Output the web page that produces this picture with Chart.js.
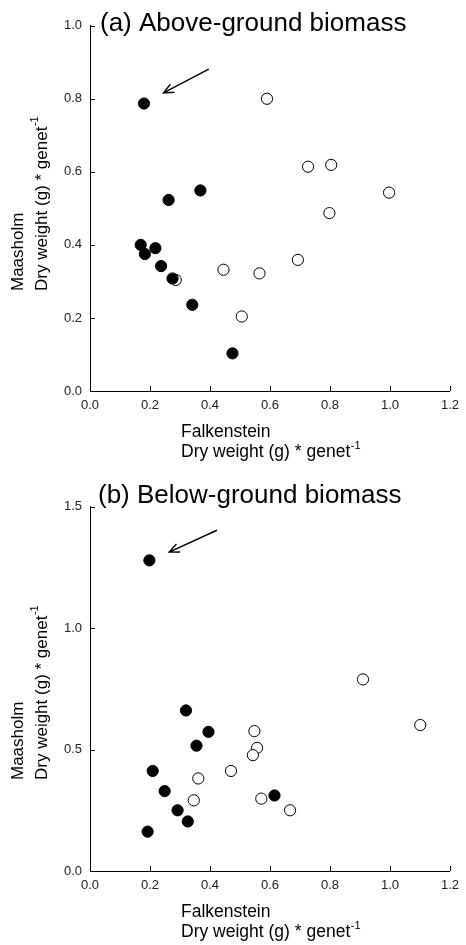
<!DOCTYPE html>
<html>
<head>
<meta charset="utf-8">
<script src="https://cdn.jsdelivr.net/npm/chart.js@4.4.1/dist/chart.umd.min.js"></script>
<style>
  html, body { margin: 0; padding: 0; background: #fff; }
  #wrap { position: relative; width: 466px; height: 945px; }
  canvas { position: absolute; left: 0; }
  #chartA { top: 0; }
  #chartB { top: 470px; }
</style>
</head>
<body>
<div id="wrap">
  <canvas id="chartA" width="466" height="470"></canvas>
  <canvas id="chartB" width="466" height="475"></canvas>
</div>
<script>
// (a) Above-ground biomass
const aboveFilledX = [0.180, 0.262, 0.368, 0.169, 0.183, 0.218, 0.237, 0.275, 0.341, 0.475];
const aboveFilledY = [0.787, 0.523, 0.549, 0.400, 0.375, 0.391, 0.342, 0.308, 0.236, 0.103];
const aboveOpenX = [0.590, 0.727, 0.804, 0.997, 0.798, 0.286, 0.445, 0.565, 0.693, 0.506];
const aboveOpenY = [0.800, 0.614, 0.619, 0.543, 0.487, 0.304, 0.332, 0.322, 0.359, 0.204];
const aboveArrow = [0.396, 0.881, 0.245, 0.816]; // tail x, tail y, head x, head y

// (b) Below-ground biomass
const belowFilledX = [0.198, 0.320, 0.395, 0.355, 0.209, 0.249, 0.292, 0.326, 0.192, 0.615];
const belowFilledY = [1.279, 0.661, 0.573, 0.516, 0.412, 0.329, 0.250, 0.204, 0.162, 0.311];
const belowOpenX = [0.910, 1.101, 0.548, 0.557, 0.543, 0.470, 0.361, 0.346, 0.571, 0.667];
const belowOpenY = [0.789, 0.601, 0.576, 0.507, 0.477, 0.412, 0.381, 0.291, 0.298, 0.250];
const belowArrow = [0.423, 1.403, 0.264, 1.313];

// axes
const xTicks = [0.0, 0.2, 0.4, 0.6, 0.8, 1.0, 1.2];
const aboveYTicks = [0.0, 0.2, 0.4, 0.6, 0.8, 1.0];
const belowYTicks = [0.0, 0.5, 1.0, 1.5];

const FONT = "'Liberation Sans', Arial, sans-serif";

function toPoints(xs, ys) {
  return xs.map((x, i) => ({ x: x, y: ys[i] }));
}

// text with a "-1" superscript at the end
function drawSupText(ctx, text, sup, x, y, size) {
  ctx.font = size + "px " + FONT;
  ctx.fillText(text, x, y);
  const w = ctx.measureText(text).width;
  ctx.font = Math.round(size * 0.62) + "px " + FONT;
  ctx.fillText(sup, x + w + 0.5, y - size * 0.42);
}

const decorPlugin = {
  id: "decor",
  afterDatasetsDraw(chart, args, opts) {
    const ctx = chart.ctx;
    const xs = chart.scales.x;
    const ys = chart.scales.y;
    const area = chart.chartArea;
    ctx.save();
    ctx.strokeStyle = "#000";
    ctx.fillStyle = "#000";
    ctx.lineWidth = 1;

    // inward tick marks
    ctx.beginPath();
    opts.yTicks.forEach(v => {
      const py = Math.round(ys.getPixelForValue(v)) + 0.5;
      ctx.moveTo(area.left, py);
      ctx.lineTo(area.left + 5, py);
    });
    xTicks.forEach(v => {
      const px = Math.round(xs.getPixelForValue(v)) + 0.5;
      ctx.moveTo(px, area.bottom);
      ctx.lineTo(px, area.bottom - 5);
    });
    ctx.stroke();

    // arrow pointing at the outlier
    const a = opts.arrow;
    const x1 = xs.getPixelForValue(a[0]), y1 = ys.getPixelForValue(a[1]);
    const x2 = xs.getPixelForValue(a[2]), y2 = ys.getPixelForValue(a[3]);
    const ang = Math.atan2(y2 - y1, x2 - x1);
    const hl = 11, hw = 0.42;
    ctx.lineWidth = 1.4;
    ctx.beginPath();
    ctx.moveTo(x1, y1);
    ctx.lineTo(x2, y2);
    ctx.moveTo(x2 - hl * Math.cos(ang - hw), y2 - hl * Math.sin(ang - hw));
    ctx.lineTo(x2, y2);
    ctx.lineTo(x2 - hl * Math.cos(ang + hw), y2 - hl * Math.sin(ang + hw));
    ctx.stroke();

    // panel title
    ctx.textBaseline = "alphabetic";
    ctx.textAlign = "left";
    ctx.font = "26px " + FONT;
    ctx.fillText(opts.title, opts.titleX, opts.titleY);

    // x axis title
    ctx.font = "17.5px " + FONT;
    ctx.fillText("Falkenstein", 181, opts.xTitleY);
    drawSupText(ctx, "Dry weight (g) * genet", "-1", 181, opts.xTitleY + 19.5, 17.5);

    // y axis title, rotated
    ctx.translate(0, opts.yTitleStart);
    ctx.rotate(-Math.PI / 2);
    ctx.textBaseline = "middle";
    ctx.font = "17px " + FONT;
    ctx.fillText("Maasholm", 0, 18);
    drawSupText(ctx, "Dry weight (g) * genet", "-1", 0, 42, 17);
    ctx.restore();
  }
};

function makeChart(id, filled, open, yMax, yStep, yTicks, xAxisH, padTop, decor) {
  return new Chart(document.getElementById(id), {
    type: "scatter",
    data: {
      datasets: [
        {
          data: filled,
          pointRadius: 5.6,
          pointBackgroundColor: "#000",
          pointBorderColor: "#000",
          pointBorderWidth: 1
        },
        {
          data: open,
          pointRadius: 5.6,
          pointBackgroundColor: "#fff",
          pointBorderColor: "#000",
          pointBorderWidth: 1
        }
      ]
    },
    options: {
      responsive: false,
      animation: false,
      layout: { padding: { top: padTop, right: 10, left: 0, bottom: 0 } },
      plugins: {
        legend: { display: false },
        tooltip: { enabled: false },
        decor: Object.assign({ yTicks: yTicks }, decor)
      },
      scales: {
        x: {
          type: "linear",
          min: 0,
          max: 1.2,
          afterFit: s => { s.height = xAxisH; },
          afterBuildTicks: s => { s.ticks = xTicks.map(v => ({ value: v })); },
          grid: { display: false, drawTicks: false },
          border: { display: true, color: "#000", width: 1 },
          ticks: {
            color: "#222",
            padding: 7,
            font: { family: FONT, size: 13 },
            callback: v => v.toFixed(1)
          }
        },
        y: {
          type: "linear",
          min: 0,
          max: yMax,
          afterFit: s => { s.width = 90; },
          afterBuildTicks: s => { s.ticks = yTicks.map(v => ({ value: v })); },
          grid: { display: false, drawTicks: false },
          border: { display: true, color: "#000", width: 1 },
          ticks: {
            color: "#222",
            padding: 8,
            font: { family: FONT, size: 13 },
            stepSize: yStep,
            callback: v => v.toFixed(1)
          }
        }
      }
    },
    plugins: [decorPlugin]
  });
}

makeChart("chartA",
  toPoints(aboveFilledX, aboveFilledY),
  toPoints(aboveOpenX, aboveOpenY),
  1.0, 0.2, aboveYTicks, 79, 25.7,
  { arrow: aboveArrow, title: "(a) Above-ground biomass", titleX: 100, titleY: 31,
    xTitleY: 437, yTitleStart: 291 });

makeChart("chartB",
  toPoints(belowFilledX, belowFilledY),
  toPoints(belowOpenX, belowOpenY),
  1.5, 0.5, belowYTicks, 74, 36.7,
  { arrow: belowArrow, title: "(b) Below-ground biomass", titleX: 98, titleY: 33,
    xTitleY: 447, yTitleStart: 310 });
</script>
</body>
</html>
